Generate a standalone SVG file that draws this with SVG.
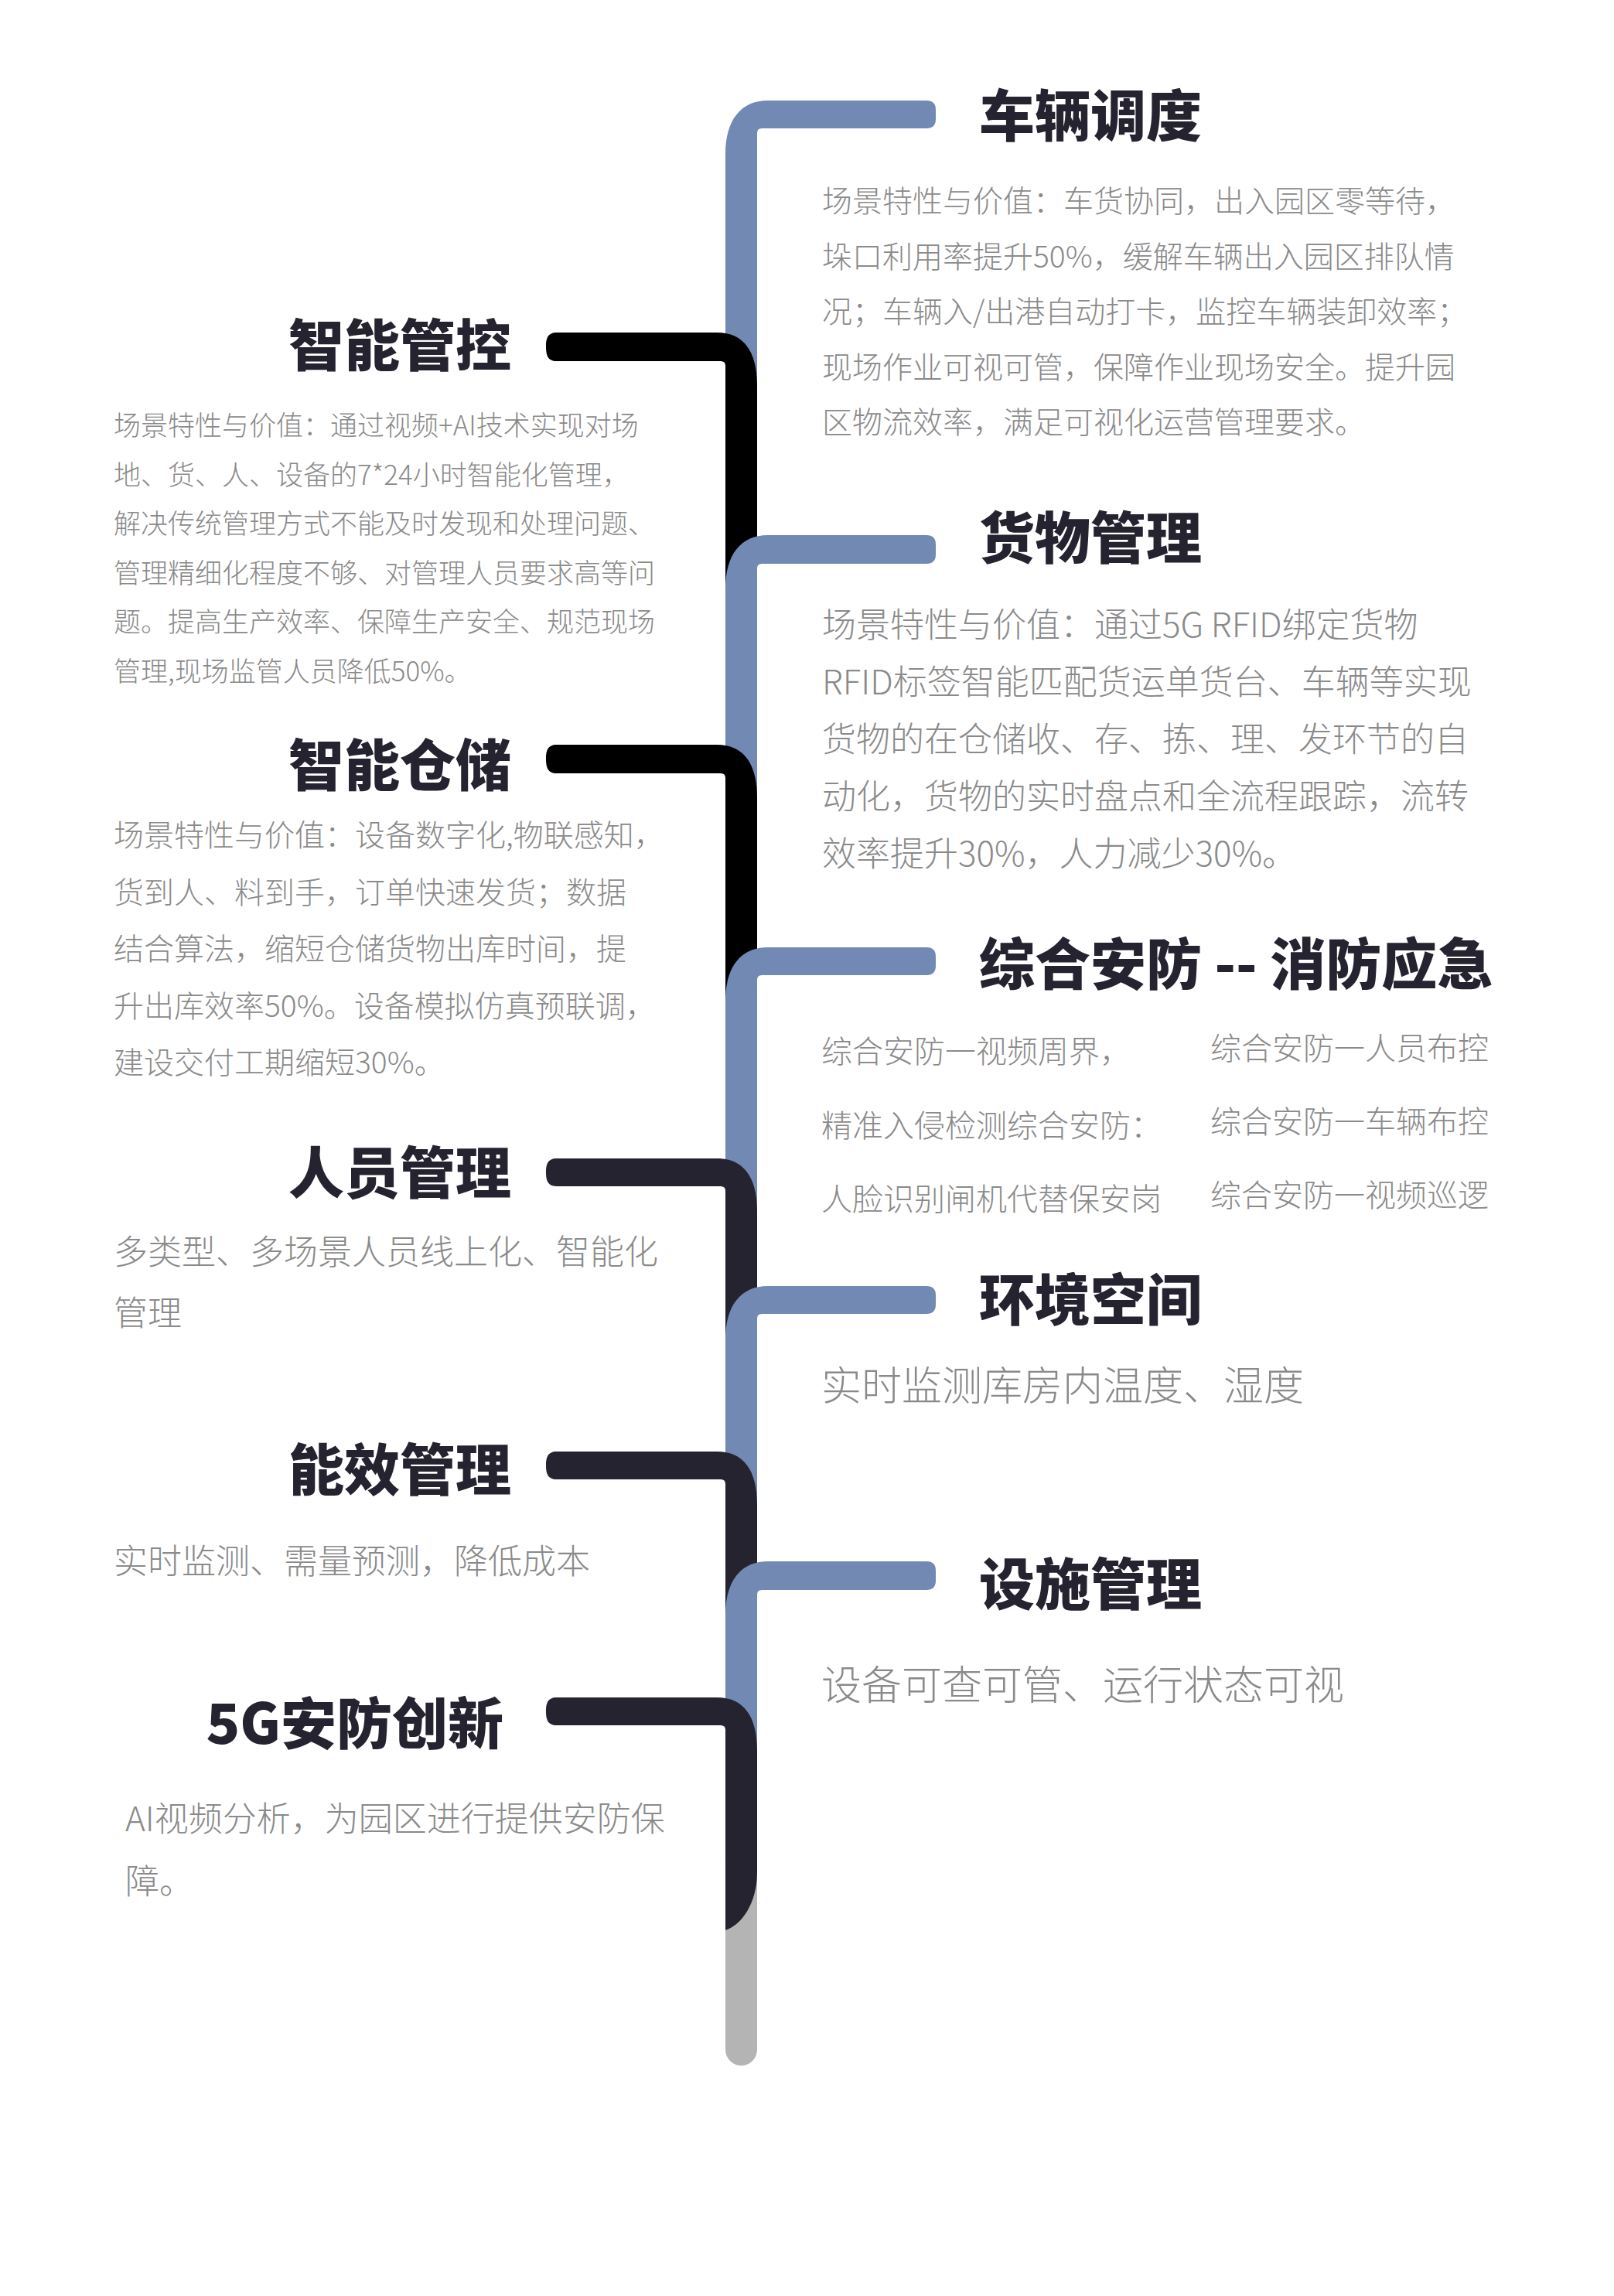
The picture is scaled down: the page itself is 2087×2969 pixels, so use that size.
<svg xmlns="http://www.w3.org/2000/svg" width="2087" height="2969" viewBox="0 0 2087 2969">
<style>
.title{font-family:"Noto Sans CJK SC","Noto Sans",sans-serif;font-weight:900;font-size:72px;fill:#24232f}
.desc{font-family:"Noto Sans CJK SC","Noto Sans",sans-serif;font-weight:300;fill:#8a8a8a}
.blue{fill:#7289b4}
.black{fill:#000000}
.navy{fill:#24232f}
.grey{fill:#b4b4b4}
</style>
<rect width="2087" height="2969" fill="#ffffff"/>
<g id="connectors">
<rect class="grey" x="938" y="2380" width="41" height="291" rx="20.5"/>
<path class="blue" d="M993,130 L1198,130 Q1210,130 1210,142 L1210,154 Q1210,166 1198,166 L985,166 Q979,166 979,172 L979,515 L938,515 L938,200 C938,155 958,130 993,130 Z"/>
<path class="black" d="M720,430 L927,430 C962,430 979,455 979,498 L979,777 L938,777 L938,473 Q938,467 932,467 L720,467 C708,467 706,459 706,448 C706,438 708,430 720,430 Z"/>
<path class="blue" d="M993,692 L1198,692 Q1210,692 1210,704 L1210,717 Q1210,729 1198,729 L985,729 Q979,729 979,735 L979,1048 L938,1048 L938,762 C938,717 958,692 993,692 Z"/>
<path class="black" d="M720,963 L927,963 C962,963 979,988 979,1031 L979,1310 L938,1310 L938,1006 Q938,1000 932,1000 L720,1000 C708,1000 706,992 706,981 C706,971 708,963 720,963 Z"/>
<path class="blue" d="M993,1225 L1198,1225 Q1210,1225 1210,1237 L1210,1249 Q1210,1261 1198,1261 L985,1261 Q979,1261 979,1267 L979,1583 L938,1583 L938,1295 C938,1250 958,1225 993,1225 Z"/>
<path class="navy" d="M720,1498 L927,1498 C962,1498 979,1523 979,1566 L979,1748 L938,1748 L938,1540 Q938,1534 932,1534 L720,1534 C708,1534 706,1526 706,1516 C706,1506 708,1498 720,1498 Z"/>
<path class="blue" d="M993,1663 L1198,1663 Q1210,1663 1210,1675 L1210,1687 Q1210,1699 1198,1699 L985,1699 Q979,1699 979,1705 L979,1962 L938,1962 L938,1733 C938,1688 958,1663 993,1663 Z"/>
<path class="navy" d="M720,1877 L927,1877 C962,1877 979,1902 979,1945 L979,2104 L938,2104 L938,1919 Q938,1913 932,1913 L720,1913 C708,1913 706,1905 706,1895 C706,1885 708,1877 720,1877 Z"/>
<path class="blue" d="M993,2019 L1198,2019 Q1210,2019 1210,2031 L1210,2044 Q1210,2056 1198,2056 L985,2056 Q979,2056 979,2062 L979,2280 L938,2280 L938,2089 C938,2044 958,2019 993,2019 Z"/>
<path class="navy" d="M720,2195 L927,2195 C962,2195 979,2220 979,2263 L979,2421 C979,2462 958,2490 938,2496 L938,2237 Q938,2231 932,2231 L720,2231 C708,2231 706,2223 706,2213 C706,2203 708,2195 720,2195 Z"/>
</g>
<g id="node-cheliang">
<text class="title" x="1266" y="176">车辆调度</text>
<text class="desc" font-size="39" x="1063" y="274">场景特性与价值：车货协同，出入园区零等待，</text>
<text class="desc" font-size="39" x="1063" y="345.5">垛口利用率提升50%，缓解车辆出入园区排队情</text>
<text class="desc" font-size="39" x="1063" y="417">况；车辆入/出港自动打卡，监控车辆装卸效率；</text>
<text class="desc" font-size="39" x="1063" y="488.5">现场作业可视可管，保障作业现场安全。提升园</text>
<text class="desc" font-size="39" x="1063" y="560">区物流效率，满足可视化运营管理要求。</text>
</g>
<g id="node-guankong">
<text class="title" x="661" y="473" text-anchor="end">智能管控</text>
<text class="desc" font-size="35" x="147" y="563">场景特性与价值：通过视频+AI技术实现对场</text>
<text class="desc" font-size="35" x="147" y="626.5">地、货、人、设备的7*24小时智能化管理，</text>
<text class="desc" font-size="35" x="147" y="690">解决传统管理方式不能及时发现和处理问题、</text>
<text class="desc" font-size="35" x="147" y="753.5">管理精细化程度不够、对管理人员要求高等问</text>
<text class="desc" font-size="35" x="147" y="817">题。提高生产效率、保障生产安全、规范现场</text>
<text class="desc" font-size="35" x="147" y="880.5">管理,现场监管人员降低50%。</text>
</g>
<g id="node-huowu">
<text class="title" x="1266" y="722">货物管理</text>
<text class="desc" font-size="44" x="1063" y="824">场景特性与价值：通过5G RFID绑定货物</text>
<text class="desc" font-size="44" x="1063" y="898">RFID标签智能匹配货运单货台、车辆等实现</text>
<text class="desc" font-size="44" x="1063" y="972">货物的在仓储收、存、拣、理、发环节的自</text>
<text class="desc" font-size="44" x="1063" y="1046">动化，货物的实时盘点和全流程跟踪，流转</text>
<text class="desc" font-size="44" x="1063" y="1120">效率提升30%，人力减少30%。</text>
</g>
<g id="node-cangchu">
<text class="title" x="661" y="1016" text-anchor="end">智能仓储</text>
<text class="desc" font-size="39" x="147" y="1094">场景特性与价值：设备数字化,物联感知，</text>
<text class="desc" font-size="39" x="147" y="1167.5">货到人、料到手，订单快速发货；数据</text>
<text class="desc" font-size="39" x="147" y="1241">结合算法，缩短仓储货物出库时间，提</text>
<text class="desc" font-size="39" x="147" y="1314.5">升出库效率50%。设备模拟仿真预联调，</text>
<text class="desc" font-size="39" x="147" y="1388">建设交付工期缩短30%。</text>
</g>
<g id="node-anfang">
<text class="title" x="1266" y="1273">综合安防 -- 消防应急</text>
<text class="desc" font-size="40" x="1062" y="1374">综合安防一视频周界，</text>
<text class="desc" font-size="40" x="1062" y="1470">精准入侵检测综合安防：</text>
<text class="desc" font-size="40" x="1062" y="1565">人脸识别闸机代替保安岗</text>
<text class="desc" font-size="40" x="1565" y="1370">综合安防一人员布控</text>
<text class="desc" font-size="40" x="1565" y="1465">综合安防一车辆布控</text>
<text class="desc" font-size="40" x="1565" y="1560">综合安防一视频巡逻</text>
</g>
<g id="node-renyuan">
<text class="title" x="661" y="1543" text-anchor="end">人员管理</text>
<text class="desc" font-size="44" x="147" y="1635">多类型、多场景人员线上化、智能化</text>
<text class="desc" font-size="44" x="147" y="1714">管理</text>
</g>
<g id="node-huanjing">
<text class="title" x="1266" y="1707">环境空间</text>
<text class="desc" font-size="52" x="1062" y="1811">实时监测库房内温度、湿度</text>
</g>
<g id="node-nengxiao">
<text class="title" x="661" y="1927" text-anchor="end">能效管理</text>
<text class="desc" font-size="44" x="147" y="2035">实时监测、需量预测，降低成本</text>
</g>
<g id="node-sheshi">
<text class="title" x="1266" y="2075">设施管理</text>
<text class="desc" font-size="52" x="1062" y="2198">设备可查可管、运行状态可视</text>
</g>
<g id="node-5g">
<text class="title" x="651" y="2255" text-anchor="end">5G安防创新</text>
<text class="desc" font-size="44" x="162" y="2368">AI视频分析，为园区进行提供安防保</text>
<text class="desc" font-size="44" x="162" y="2449">障。</text>
</g>
</svg>
